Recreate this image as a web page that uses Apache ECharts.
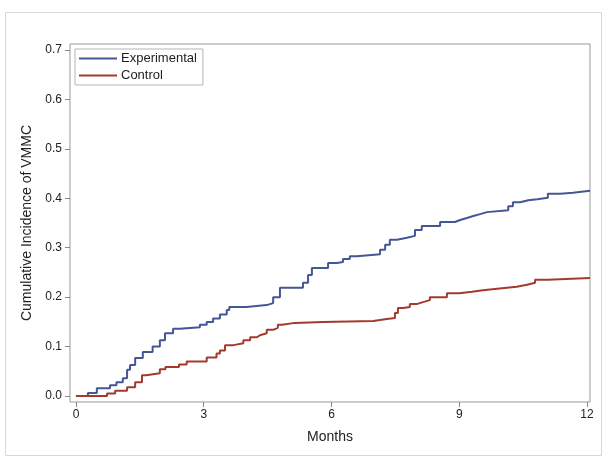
<!DOCTYPE html>
<html><head><meta charset="utf-8">
<script src="https://cdn.jsdelivr.net/npm/echarts@6/dist/echarts.min.js"></script>
<style>html,body{margin:0;padding:0;background:#fff}#c{width:612px;height:469px}</style>
</head><body><div id="c"></div>
<script>
const xTicks = [0, 3, 6, 9, 12];
const yTicks = [0, 0.1, 0.2, 0.3, 0.4, 0.5, 0.6, 0.7];
const seriesNames = ['Experimental', 'Control'];
const expMonths = [0,0.28,0.49,0.8,0.95,1.1,1.2,1.27,1.39,1.57,1.8,1.97,2.09,2.28,2.44,2.91,3.07,3.22,3.38,3.54,3.6,4.0,4.48,4.63,4.79,5.33,5.45,5.54,5.92,6.13,6.27,6.43,6.6,7.14,7.26,7.37,7.54,7.77,7.96,8.12,8.55,8.9,9.02,9.18,9.33,9.49,9.65,10.15,10.26,10.43,10.62,10.83,11.08,11.37,11.67,12.07];
const expValues = [0,0.006,0.016,0.022,0.028,0.036,0.053,0.063,0.077,0.089,0.1,0.113,0.127,0.136,0.139,0.144,0.15,0.157,0.165,0.174,0.18,0.184,0.188,0.2,0.219,0.229,0.245,0.259,0.269,0.271,0.277,0.283,0.287,0.296,0.306,0.316,0.32,0.324,0.336,0.344,0.352,0.356,0.36,0.364,0.368,0.372,0.376,0.384,0.392,0.396,0.398,0.401,0.409,0.411,0.415,0.415];
const ctlMonths = [0,0.73,0.92,1.2,1.39,1.55,1.65,1.97,2.1,2.42,2.6,3.07,3.3,3.38,3.5,3.7,3.93,4.09,4.25,4.32,4.48,4.63,4.74,4.84,5.14,5.8,6.98,7.3,7.49,7.56,7.68,7.84,8.0,8.15,8.31,8.71,9.0,9.3,9.56,9.89,10.35,10.59,10.78,11.08,12.07];
const ctlValues = [0,0.005,0.011,0.018,0.028,0.042,0.046,0.054,0.059,0.064,0.07,0.078,0.086,0.092,0.103,0.107,0.113,0.119,0.123,0.127,0.134,0.138,0.144,0.148,0.15,0.152,0.156,0.158,0.168,0.178,0.18,0.186,0.19,0.194,0.2,0.208,0.211,0.214,0.217,0.221,0.225,0.229,0.235,0.239,0.239];

const pair = (xs, ys) => xs.map((x, i) => [x, ys[i]]);
const font = 'Liberation Sans, Arial, sans-serif';
const chart = echarts.init(document.getElementById('c'), null, {renderer: 'canvas'});
chart.setOption({
  animation: false,
  graphic: [{type: 'rect', shape: {x: 5.5, y: 12.5, width: 596, height: 443}, style: {fill: 'none', stroke: '#d3d7df', lineWidth: 1}, silent: true}],
  grid: {left: 70, right: 22, top: 44, bottom: 67, show: true, borderColor: '#999', borderWidth: 1, backgroundColor: 'transparent'},
  legend: {
    data: seriesNames, orient: 'vertical', left: 75, top: 49,
    itemWidth: 38, itemHeight: 10, itemGap: 4, padding: [3, 6, 3, 4],
    borderColor: '#b5b5b5', borderWidth: 1, icon: 'path://M0,4 L38,4 L38,6 L0,6 Z',
    textStyle: {fontFamily: font, fontSize: 13, color: '#222', padding: [0, 0, 0, -1]}
  },
  xAxis: {
    type: 'value', min: -0.14, max: 12.07,
    name: 'Months', nameLocation: 'middle', nameGap: 28,
    nameTextStyle: {fontFamily: font, fontSize: 14, color: '#222'},
    axisLine: {show: false, onZero: false}, splitLine: {show: false},
    axisTick: {show: true, customValues: xTicks, length: 5, lineStyle: {color: '#888'}},
    axisLabel: {customValues: xTicks, fontFamily: font, fontSize: 12, color: '#222', margin: 7}
  },
  yAxis: {
    type: 'value', min: -0.012, max: 0.712,
    name: 'Cumulative Incidence of VMMC', nameLocation: 'middle', nameGap: 34,
    nameTextStyle: {fontFamily: font, fontSize: 14, color: '#222'},
    axisLine: {show: false, onZero: false}, splitLine: {show: false},
    axisTick: {show: true, customValues: yTicks, length: 5, lineStyle: {color: '#888'}},
    axisLabel: {customValues: yTicks, fontFamily: font, fontSize: 12, color: '#222', margin: 8,
      formatter: v => v.toFixed(1)}
  },
  series: [
    {name: seriesNames[0], type: 'line', step: 'end', showSymbol: false, symbol: 'none',
     data: pair(expMonths, expValues), lineStyle: {color: '#445694', width: 2}, itemStyle: {color: '#445694'}},
    {name: seriesNames[1], type: 'line', step: 'end', showSymbol: false, symbol: 'none',
     data: pair(ctlMonths, ctlValues), lineStyle: {color: '#A23A2E', width: 2}, itemStyle: {color: '#A23A2E'}}
  ]
});
</script></body></html>
